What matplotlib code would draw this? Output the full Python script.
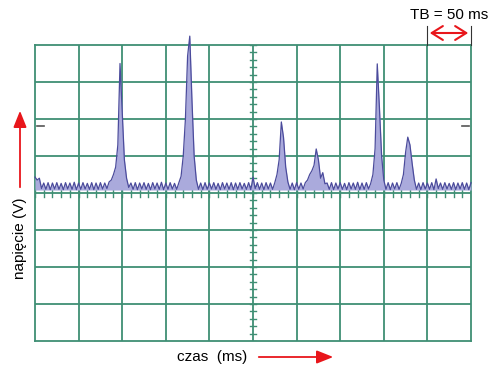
import numpy as np
import matplotlib
matplotlib.use("Agg")
import matplotlib.pyplot as plt

# ---- data (divisions: x 0..10, y -4..4) ----
t_step = 0.05
volt = [
    # div 0
    0.43, 0.35, 0.40, 0.12, 0.27, 0.10, 0.28, 0.09, 0.27, 0.11,
    0.28, 0.10, 0.26, 0.09, 0.28, 0.11, 0.27, 0.10, 0.29, 0.09,
    # div 1
    0.27, 0.10, 0.28, 0.11, 0.26, 0.10, 0.28, 0.09, 0.27, 0.10,
    0.28, 0.11, 0.27, 0.12, 0.30, 0.35, 0.50, 0.70, 1.30, 3.50,
    # div 2
    2.20, 0.90, 0.40, 0.15, 0.27, 0.10, 0.28, 0.09, 0.27, 0.11,
    0.28, 0.10, 0.26, 0.09, 0.28, 0.11, 0.27, 0.10, 0.29, 0.09,
    # div 3
    0.27, 0.10, 0.28, 0.11, 0.26, 0.10, 0.28, 0.45, 1.00, 2.00,
    3.70, 4.24, 2.50, 1.00, 0.35, 0.10, 0.27, 0.09, 0.28, 0.10,
    # div 4
    0.27, 0.11, 0.28, 0.10, 0.26, 0.09, 0.28, 0.11, 0.27, 0.10,
    0.28, 0.09, 0.27, 0.10, 0.28, 0.11, 0.26, 0.10, 0.28, 0.09,
    # div 5
    0.43, 0.12, 0.28, 0.10, 0.27, 0.09, 0.28, 0.11, 0.27, 0.10,
    0.28, 0.50, 0.90, 1.92, 1.50, 0.70, 0.30, 0.10, 0.27, 0.09,
    # div 6
    0.28, 0.10, 0.27, 0.11, 0.28, 0.35, 0.50, 0.60, 0.75, 1.19,
    0.90, 0.40, 0.55, 0.25, 0.27, 0.10, 0.28, 0.09, 0.27, 0.11,
    # div 7
    0.28, 0.10, 0.26, 0.09, 0.28, 0.11, 0.27, 0.10, 0.29, 0.09,
    0.27, 0.10, 0.28, 0.11, 0.26, 0.50, 1.20, 3.49, 2.30, 1.00,
    # div 8
    0.35, 0.10, 0.28, 0.09, 0.27, 0.11, 0.28, 0.10, 0.26, 0.50,
    1.10, 1.51, 1.30, 0.80, 0.35, 0.10, 0.27, 0.09, 0.28, 0.11,
    # div 9
    0.27, 0.10, 0.28, 0.09, 0.38, 0.12, 0.27, 0.10, 0.28, 0.11,
    0.26, 0.10, 0.28, 0.09, 0.27, 0.11, 0.28, 0.10, 0.27, 0.09,
    # end
    0.28,
]
noise_floor = 0.08
n_xdiv = 10
n_ydiv = 8
trig_level = 1.81
xlabel = "czas  (ms)"
ylabel = "napięcie (V)"
tb_label = "TB = 50 ms"

t = np.arange(len(volt)) * t_step
volt = np.array(volt)

# ---- style ----
grid_c = "#3f8f74"
line_c = "#4b4b9c"
fill_c = "#aaaadc"
red = "#e8161b"

plt.rcParams['font.family'] = ['Liberation Sans', 'DejaVu Sans']
fig = plt.figure(figsize=(4.91, 3.74), dpi=100)
ax = fig.add_axes([35/491, 1-341/374, 436/491, 296/374])
ax.set_xlim(0, n_xdiv)
ax.set_ylim(-n_ydiv/2, n_ydiv/2)
ax.set_xticks([]); ax.set_yticks([])
for s in ax.spines.values():
    s.set_color(grid_c); s.set_linewidth(1.3)

for xv in range(1, n_xdiv):
    ax.axvline(xv, color=grid_c, lw=1.3, zorder=1)
for yv in range(-n_ydiv//2 + 1, n_ydiv//2):
    ax.axhline(yv, color=grid_c, lw=1.3, zorder=1)

# minor ticks on center axes
for yv in np.arange(-4, 4.01, 0.2):
    ax.plot([4.93, 5.07], [yv, yv], color=grid_c, lw=1.0, zorder=1)
for xv in np.arange(0, 10.01, 0.2):
    ax.plot([xv, xv], [-0.1, 0.1], color=grid_c, lw=1.0, zorder=1)

# trigger marks
ax.plot([0.05, 0.2], [trig_level, trig_level], color="#555555", lw=1.2, zorder=2)
ax.plot([9.8, 9.95], [trig_level, trig_level], color="#555555", lw=1.2, zorder=2)

# trace
ax.fill_between(t, noise_floor, volt, color=fill_c, lw=0, zorder=3, clip_on=False)
ax.plot(t, volt, color=line_c, lw=0.9, zorder=4, clip_on=False)

# labels and arrows
fig.text(20/491, 1-238/374, ylabel, rotation=90, ha='center', va='center', fontsize=11)
fig.add_artist(matplotlib.patches.FancyArrowPatch(
    (20/491, 1-190/374), (20/491, 1-108/374), transform=fig.transFigure,
    arrowstyle='-|>,head_length=10,head_width=4', color=red, lw=1.3, mutation_scale=1))
fig.text(177/491, 1-357/374, xlabel, ha='left', va='center', fontsize=11)
fig.add_artist(matplotlib.patches.FancyArrowPatch(
    (256/491, 1-357/374), (336/491, 1-357/374), transform=fig.transFigure,
    arrowstyle='-|>,head_length=10,head_width=4', color=red, lw=1.3, mutation_scale=1))

fig.text(449/491, 1-15/374, tb_label, ha='center', va='center', fontsize=11)
fig.add_artist(matplotlib.patches.FancyArrowPatch(
    (427/491, 1-33/374), (471/491, 1-33/374), transform=fig.transFigure,
    arrowstyle='<->,head_length=8,head_width=5', color=red, lw=1.5, mutation_scale=1))
for xp in (427, 471):
    fig.add_artist(matplotlib.lines.Line2D([xp/491, xp/491], [1-26/374, 1-45/374],
                                           color="#333333", lw=0.8))

fig.savefig("out.png", dpi=100)
